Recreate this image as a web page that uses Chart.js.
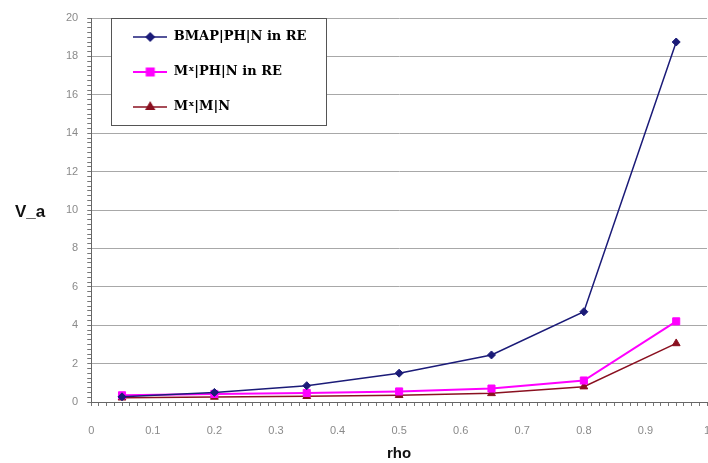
<!DOCTYPE html>
<html><head><meta charset="utf-8">
<script src="https://cdn.jsdelivr.net/npm/chart.js@4/dist/chart.umd.min.js"></script>
<style>html,body{margin:0;padding:0;background:#fff;overflow:hidden}</style>
</head><body>
<canvas id="c" width="708" height="463"></canvas>
<script>
// ---- data ----
const rho = [0.05, 0.2, 0.35, 0.5, 0.65, 0.8, 0.95];
const bmapPH = [0.27, 0.5, 0.85, 1.5, 2.45, 4.7, 18.75];
const mxPH   = [0.35, 0.42, 0.47, 0.55, 0.7, 1.12, 4.2];
const mxM    = [0.22, 0.26, 0.3, 0.35, 0.45, 0.8, 3.05];
const seriesNames = ['BMAP|PH|N in RE', 'M\u02E3|PH|N in RE', 'M\u02E3|M|N'];
const xTickLabels = ['0', '0.1', '0.2', '0.3', '0.4', '0.5', '0.6', '0.7', '0.8', '0.9', '1'];
const yTickLabels = ['0', '2', '4', '6', '8', '10', '12', '14', '16', '18', '20'];
const xTitle = 'rho';
const yTitle = 'V_a';

const colors = ['#1b1b78', '#ff00ff', '#8a1020'];
const styles = ['rectRot', 'rect', 'triangle'];
const radii = [4, 5, 4.5];
const widths = [1.5, 2, 1.5];

function pts(ys) { return ys.map((v, i) => ({x: rho[i], y: v})); }

function makeSym(i) {
  const cv = document.createElement('canvas');
  cv.width = 34; cv.height = 12;
  const g = cv.getContext('2d');
  g.strokeStyle = colors[i]; g.lineWidth = widths[i];
  g.beginPath(); g.moveTo(0, 6); g.lineTo(34, 6); g.stroke();
  g.fillStyle = colors[i];
  Chart.helpers.drawPoint(g, {pointStyle: styles[i], radius: radii[i], rotation: 0, borderWidth: 1}, 17, 6);
  g.fill();
  return cv;
}
const syms = [0, 1, 2].map(makeSym);

const legendFrame = {
  id: 'legendFrame',
  afterLayout(chart) {
    const lg = chart.legend;
    if (!lg) return;
    const dx = 20, dy = 8.5;
    lg.left += dx; lg.right += dx; lg.top += dy; lg.bottom += dy;
    lg.legendHitBoxes.forEach(h => { h.left += dx; h.top += dy; });
    if (!lg.__wrapped) {
      const od = lg.draw;
      lg.draw = function (...a) {
        const hb = this.legendHitBoxes;
        let l = Infinity, t = Infinity, r = -Infinity, b = -Infinity;
        hb.forEach(h => { l = Math.min(l, h.left); t = Math.min(t, h.top); r = Math.max(r, h.left + h.width); b = Math.max(b, h.top + h.height); });
        const c = this.ctx;
        const x0 = Math.round(l - 42) + 0.5, y0 = Math.round(t - 12.5) + 0.5;
        const x1 = Math.round(r - 1) + 0.5, y1 = Math.round(b + 11) + 0.5;
        c.save();
        c.fillStyle = '#fff';
        c.fillRect(x0, y0, x1 - x0, y1 - y0);
        c.strokeStyle = '#555'; c.lineWidth = 1;
        c.strokeRect(x0, y0, x1 - x0, y1 - y0);
        c.restore();
        return od.apply(this, a);
      };
      lg.__wrapped = true;
    }
  }
};

const yTitlePlugin = {
  id: 'yTitleH',
  afterDraw(chart) {
    const c = chart.ctx, ys = chart.scales.y;
    c.save();
    c.font = 'bold 17px "Liberation Sans"';
    c.fillStyle = '#111';
    c.textAlign = 'left'; c.textBaseline = 'middle';
    c.fillText(yTitle, 15, ys.getPixelForValue(10) + 2);
    c.restore();
  }
};

function isMult(v, s) { return Math.abs(v / s - Math.round(v / s)) < 1e-6; }

new Chart(document.getElementById('c'), {
  type: 'line',
  data: {
    datasets: [bmapPH, mxPH, mxM].map((d, i) => ({
      label: seriesNames[i],
      data: pts(d),
      borderColor: colors[i],
      backgroundColor: colors[i],
      borderWidth: widths[i],
      pointStyle: styles[i],
      pointRadius: radii[i],
      pointBorderWidth: 1,
      tension: 0
    }))
  },
  options: {
    responsive: false,
    devicePixelRatio: 1,
    animation: false,
    layout: {autoPadding: false, padding: {left: 57, top: 18, right: 0, bottom: 0}},
    plugins: {
      tooltip: {enabled: false},
      legend: {
        position: 'chartArea', align: 'start', fullSize: false,
        labels: {
          usePointStyle: true, pointStyleWidth: 34, padding: 22, color: '#111',
          font: {family: '"DejaVu Serif"', size: 13, weight: 'bold'},
          generateLabels(chart) {
            return chart.data.datasets.map((ds, i) => ({
              text: ds.label, pointStyle: syms[i], datasetIndex: i,
              fillStyle: 'transparent', strokeStyle: 'transparent', lineWidth: 0, hidden: false
            }));
          }
        }
      }
    },
    scales: {
      x: {
        type: 'linear', min: 0, max: 1,
        afterFit(scale) { scale.height = 61; scale.paddingRight = 1; scale.paddingLeft = 3; },
        ticks: {
          stepSize: 0.0125, autoSkip: false, maxTicksLimit: 1000, maxRotation: 0, padding: 18,
          color: '#8a8a8a', font: {family: '"Liberation Sans"', size: 11},
          callback(v) { return isMult(v, 0.1) ? xTickLabels[Math.round(v * 10)] : ''; }
        },
        grid: {drawOnChartArea: false, tickLength: 4, tickColor: '#777'},
        border: {color: '#666', width: 1},
        title: {display: true, text: xTitle, color: '#111', font: {family: '"Liberation Sans"', size: 15, weight: 'bold'}, padding: {top: 8, bottom: 0}}
      },
      y: {
        min: 0, max: 20,
        ticks: {
          stepSize: 0.25, autoSkip: false, maxTicksLimit: 1000, padding: 9,
          color: '#8a8a8a', font: {family: '"Liberation Sans"', size: 11},
          callback(v) { return isMult(v, 2) ? yTickLabels[Math.round(v / 2)] : ''; }
        },
        grid: {
          tickLength: 4, tickColor: '#777',
          color(ctx) { return ctx.tick && isMult(ctx.tick.value, 2) ? '#a8a8a8' : 'rgba(0,0,0,0)'; }
        },
        border: {color: '#666', width: 1}
      }
    }
  },
  plugins: [legendFrame, yTitlePlugin]
});
</script>
</body></html>
